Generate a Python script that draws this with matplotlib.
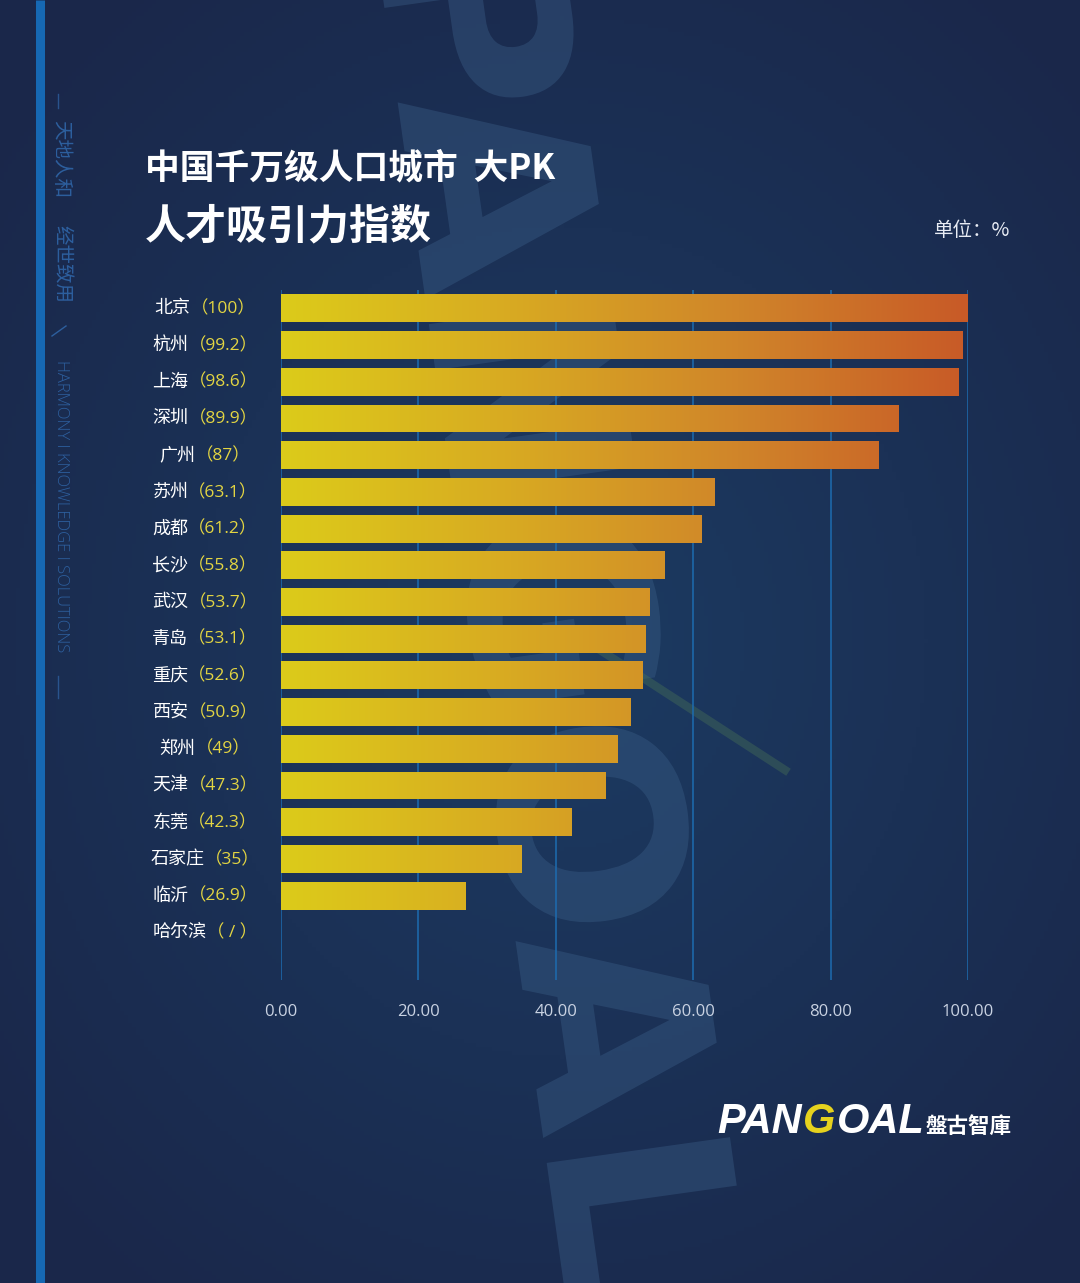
import numpy as np
import matplotlib
matplotlib.use("Agg")
import matplotlib.pyplot as plt
from matplotlib.colors import LinearSegmentedColormap
from matplotlib.offsetbox import TextArea, HPacker, AnnotationBbox
from matplotlib.transforms import blended_transform_factory, Affine2D
from matplotlib.textpath import TextPath
from matplotlib.patches import PathPatch
from matplotlib.font_manager import FontProperties

plt.rcParams['font.family'] = ['Noto Sans CJK SC', 'DejaVu Sans']

# ---------------- data ----------------
cities = ["北京", "杭州", "上海", "深圳", "广州", "苏州", "成都", "长沙", "武汉",
          "青岛", "重庆", "西安", "郑州", "天津", "东莞", "石家庄", "临沂", "哈尔滨"]
values = [100, 99.2, 98.6, 89.9, 87, 63.1, 61.2, 55.8, 53.7,
          53.1, 52.6, 50.9, 49, 47.3, 42.3, 35, 26.9, None]
value_labels = ["100", "99.2", "98.6", "89.9", "87", "63.1", "61.2", "55.8", "53.7",
                "53.1", "52.6", "50.9", "49", "47.3", "42.3", "35", "26.9", " / "]
xticks = [0, 20, 40, 60, 80, 100]

W, H = 1080, 1283
fig = plt.figure(figsize=(W / 100, H / 100), dpi=100)

def fx(px):
    return px / W

def fy(py):
    return 1 - py / H

# ---------------- background (pixel coords, y up) ----------------
ax_bg = fig.add_axes([0, 0, 1, 1], zorder=-10)
ax_bg.set_xlim(0, W)
ax_bg.set_ylim(0, H)
ax_bg.axis("off")
yy, xx = np.mgrid[0:H:4, 0:W:4]
r = np.sqrt(((xx - 560) / 560.0) ** 2 + ((yy - 640) / 640.0) ** 2)
t = np.clip(r, 0, 1.3) / 1.3
c_center = np.array([0x1c, 0x3b, 0x62]) / 255
c_edge = np.array([0x1a, 0x27, 0x4a]) / 255
img = c_center[None, None, :] * (1 - t[..., None]) + c_edge[None, None, :] * t[..., None]
ax_bg.imshow(img, extent=(0, W, 0, H), origin="upper", aspect="auto", zorder=0)

# big watermark word drawn as a shape, reading downward
wm = TextPath((0, 0), "PANGOAL", size=1, prop=FontProperties(family="DejaVu Sans", weight="bold"))
bb = wm.get_extents()
wm_len, wm_cap = 1350.0, 192.0
tr = (Affine2D().translate(-bb.x0, -bb.y0)
      .scale(wm_len / bb.width, wm_cap / bb.height)
      .rotate_deg(-82)
      .translate(374, H + 40))
ax_bg.add_patch(PathPatch(tr.transform_path(wm), facecolor="#3a5d86", edgecolor="none",
                          alpha=0.42, zorder=1))
ax_bg.plot([600, 785], [H - 650, H - 770], color="#4f7a55", lw=6, alpha=0.35, zorder=1)

# left vertical stripe and side motto
side_col = "#2d5f9e"
ax_bg.plot([39.5, 39.5], [0, H], color="#1668b3", lw=6.5, solid_capstyle="butt", zorder=2)
ax_bg.plot([58, 58], [H - 94, H - 108], color=side_col, lw=1.0, alpha=0.8, zorder=2)
ax_bg.plot([58, 58], [H - 676, H - 698], color=side_col, lw=1.0, alpha=0.8, zorder=2)
ax_bg.text(61, H - 120, "天地人和", rotation=-90, ha="center", va="top", fontsize=14,
           color=side_col, zorder=2)
ax_bg.text(61, H - 225, "经世致用", rotation=-90, ha="center", va="top", fontsize=14,
           color=side_col, zorder=2)
ax_bg.plot([52, 66], [H - 336, H - 326], color=side_col, lw=1, zorder=2)
ax_bg.text(61, H - 360, "HARMONY I KNOWLEDGE I SOLUTIONS", rotation=-90, ha="center",
           va="top", fontsize=12, color=side_col, family="Open Sans",
           fontweight="light", zorder=2)

# ---------------- titles ----------------
fig.text(fx(145), fy(168), "中国千万级人口城市  大PK", fontsize=25, fontweight="black",
         color="white", ha="left", va="center")
fig.text(fx(145), fy(226), "人才吸引力指数", fontsize=29.5, fontweight="black",
         color="white", ha="left", va="center")
fig.text(fx(1010), fy(231), "单位：%", fontsize=14, color="#e8ecf4", ha="right", va="center")

# ---------------- chart ----------------
ax = fig.add_axes([fx(281), fy(980), fx(968) - fx(281), fy(290) - fy(980)], zorder=1)
ax.patch.set_alpha(0)
for s in ax.spines.values():
    s.set_visible(False)

cmap = LinearSegmentedColormap.from_list("yo", ["#dccb1a", "#d8aa22", "#d0852a", "#c85a27"])
n = len(cities)
bar_h = 0.76
for i, v in enumerate(values):
    if v is None:
        continue
    bar = ax.barh(i, v, height=bar_h, color=cmap(v / 100), zorder=3)[0]
    grad = np.linspace(0, v / 100, 256).reshape(1, -1)
    im = ax.imshow(grad, extent=(0, v, i + bar_h / 2, i - bar_h / 2), cmap=cmap,
                   vmin=0, vmax=1, aspect="auto", zorder=4, interpolation="bilinear")
    im.set_clip_path(bar)

ax.set_xlim(0, 100)
ax.set_ylim(18.3, -0.5)
ax.set_xticks(xticks)
ax.set_xticklabels([f"{x:.2f}" for x in xticks])
ax.tick_params(axis="x", length=0, pad=17, labelsize=12, labelcolor="#c9d2e2")
for lab in ax.get_xticklabels():
    lab.set_family(["Open Sans", "DejaVu Sans"])
ax.set_yticks([])
for x in xticks:
    ax.axvline(x, color="#1d6cb0", lw=1.1, zorder=1)

# category labels: white city name + yellow value
trans = blended_transform_factory(fig.transFigure, ax.transData)
for i, (c, lab) in enumerate(zip(cities, value_labels)):
    t1 = TextArea(c, textprops=dict(color="white", fontsize=13))
    t2 = TextArea("（" + lab + "）", textprops=dict(color="#e3d542", fontsize=12.5,
                                                  family=["Open Sans", "Noto Sans CJK SC"]))
    pack = HPacker(children=[t1, t2], pad=0, sep=0, align="baseline")
    ab = AnnotationBbox(pack, (fx(205), i), xycoords=trans, frameon=False,
                        box_alignment=(0.5, 0.5), pad=0)
    ax.add_artist(ab)

# ---------------- logo ----------------
logo_parts = [
    TextArea("PAN", textprops=dict(color="white", fontsize=30, fontweight="bold",
                                   style="italic", family="Liberation Sans")),
    TextArea("G", textprops=dict(color="#e6d21e", fontsize=30, fontweight="bold",
                                 style="italic", family="Liberation Sans")),
    TextArea("OAL", textprops=dict(color="white", fontsize=30, fontweight="bold",
                                   style="italic", family="Liberation Sans")),
    TextArea("盤古智庫", textprops=dict(color="white", fontsize=15.5, fontweight="bold",
                                    family=["Noto Sans CJK TC", "Noto Sans CJK SC"])),
]
logo = HPacker(children=logo_parts, pad=0, sep=1, align="baseline")
ab = AnnotationBbox(logo, (fx(1012), fy(1122)), xycoords="figure fraction",
                    frameon=False, box_alignment=(1, 0.5), pad=0)
fig.add_artist(ab)

fig.savefig("out.png", dpi=100)
